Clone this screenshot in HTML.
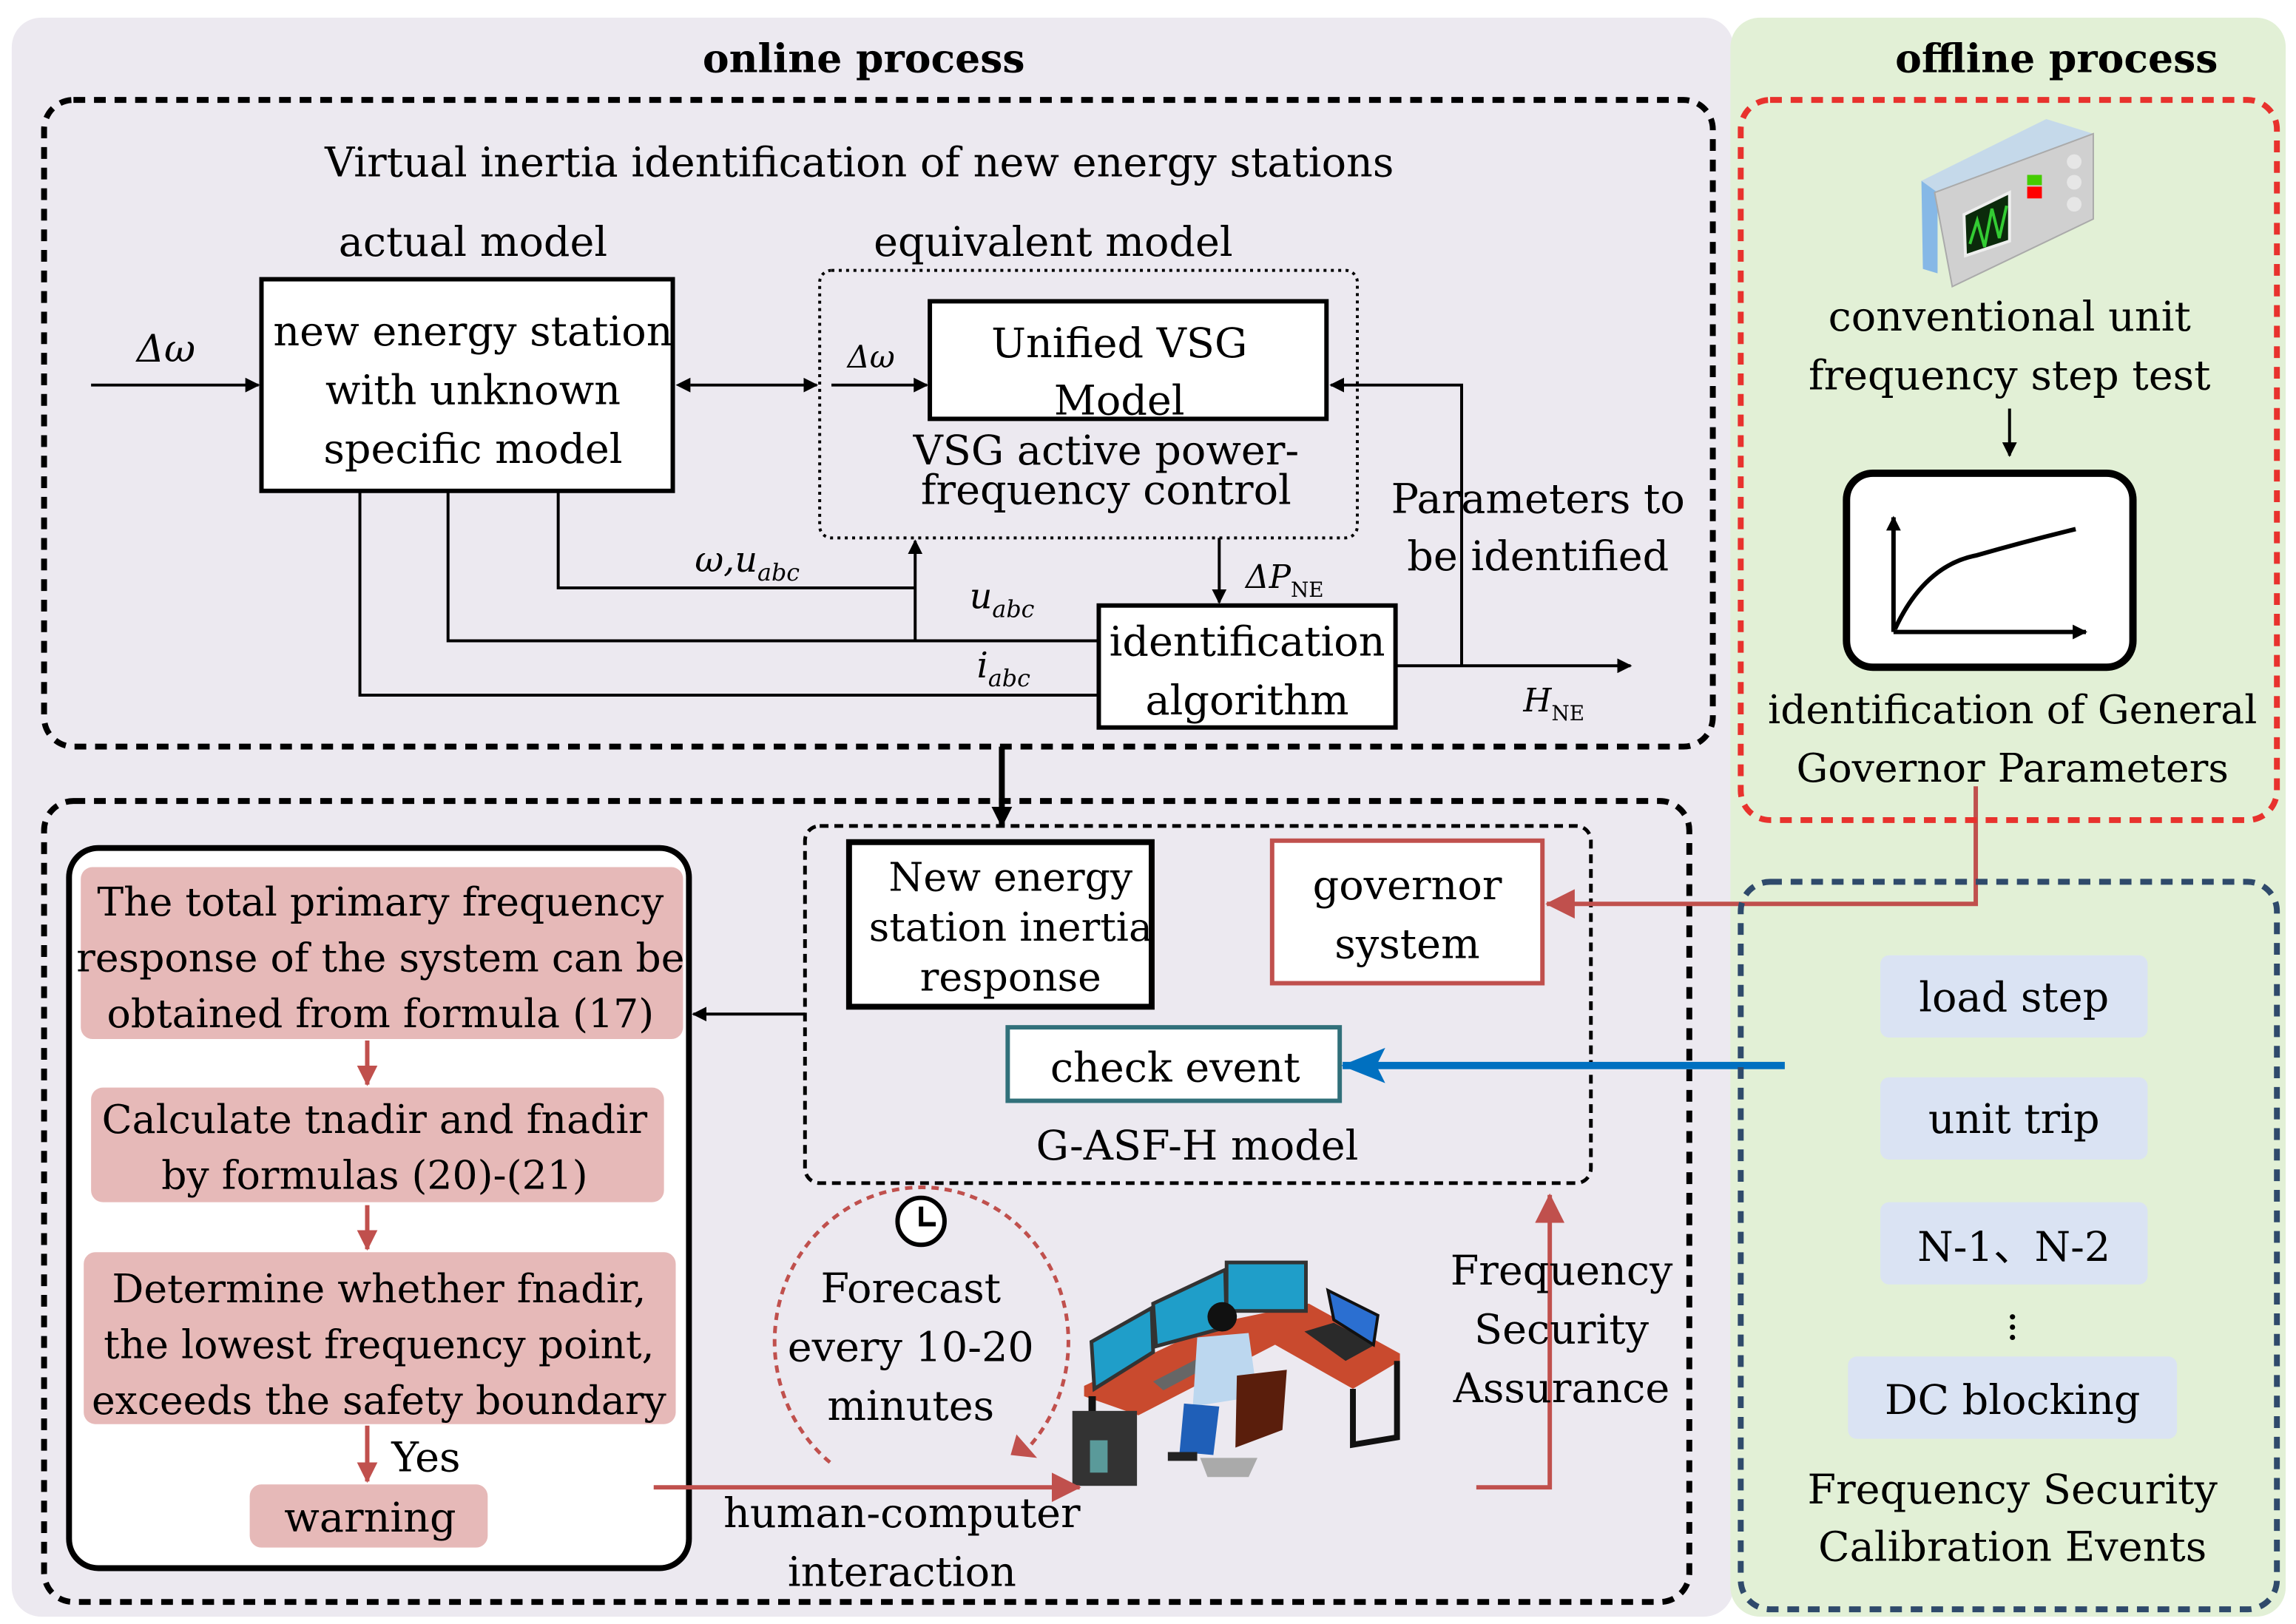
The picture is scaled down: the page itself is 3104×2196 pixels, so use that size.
<!DOCTYPE html>
<html><head><meta charset="utf-8"><style>
html,body{margin:0;padding:0;background:#fff;}
svg{display:block;}
text{font-family:"DejaVu Serif","Liberation Serif",serif;fill:#000;}
</style></head><body>
<svg width="3104" height="2196" viewBox="0 0 1563 1105" preserveAspectRatio="none" xmlns="http://www.w3.org/2000/svg">
<defs>
<marker id="ab" markerWidth="10" markerHeight="10" refX="9" refY="5" orient="auto" markerUnits="userSpaceOnUse"><path d="M0,0 L10,5 L0,10 Z" fill="#000"/></marker>
<marker id="ab2" markerWidth="14" markerHeight="14" refX="13" refY="7" orient="auto" markerUnits="userSpaceOnUse"><path d="M0,0 L14,7 L0,14 Z" fill="#000"/></marker>
<marker id="ar" markerWidth="20" markerHeight="20" refX="19" refY="10" orient="auto" markerUnits="userSpaceOnUse"><path d="M0,0 L20,10 L0,20 Z" fill="#c0504d"/></marker>
<marker id="abl" markerWidth="30" markerHeight="24" refX="29" refY="12" orient="auto" markerUnits="userSpaceOnUse"><path d="M0,0 L30,12 L0,24 L6,12 Z" fill="#0070c0"/></marker>
<marker id="ars" markerWidth="14" markerHeight="14" refX="13" refY="7" orient="auto" markerUnits="userSpaceOnUse"><path d="M0,0 L14,7 L0,14 Z" fill="#c0504d"/></marker>
</defs>
<rect width="1563" height="1105" fill="#fff"/>
<rect x="8" y="12" width="1172" height="1088" rx="20" fill="#ece9f0"/>
<rect x="1178" y="12" width="378" height="1088" rx="20" fill="#e2f0d6"/>
<text x="588" y="49" font-size="27" font-weight="bold" text-anchor="middle">online process</text>
<text x="1400" y="49" font-size="27" font-weight="bold" text-anchor="middle">offline process</text>

<!-- top dashed -->
<rect x="30" y="68" width="1136" height="440" rx="20" fill="none" stroke="#000" stroke-width="4" stroke-dasharray="8 6"/>
<text x="585" y="120" font-size="28" text-anchor="middle">Virtual inertia identification of new energy stations</text>
<text x="322" y="174" font-size="28" text-anchor="middle">actual model</text>
<text x="717" y="174" font-size="28" text-anchor="middle">equivalent model</text>
<rect x="178" y="190" width="280" height="144" fill="#fff" stroke="#000" stroke-width="3"/>
<text x="322" y="235" font-size="28" text-anchor="middle">new energy station</text>
<text x="322" y="275" font-size="28" text-anchor="middle">with unknown</text>
<text x="322" y="315" font-size="28" text-anchor="middle">specific model</text>
<text x="113" y="246" font-size="26" font-style="italic" text-anchor="middle">Δω</text>
<line x1="62" y1="262" x2="176" y2="262" stroke="#000" stroke-width="2" marker-end="url(#ab)"/>
<line x1="470" y1="262" x2="556" y2="262" stroke="#000" stroke-width="2" marker-end="url(#ab)"/>
<path d="M470,257 L460,262 L470,267 Z" fill="#000"/>
<rect x="558" y="184" width="366" height="182" rx="8" fill="none" stroke="#000" stroke-width="2" stroke-dasharray="2 3"/>
<rect x="633" y="205" width="270" height="80" fill="#fff" stroke="#000" stroke-width="3"/>
<text x="762" y="243" font-size="28" text-anchor="middle">Unified VSG</text>
<text x="762" y="282" font-size="28" text-anchor="middle">Model</text>
<text x="593" y="250" font-size="21" font-style="italic" text-anchor="middle">Δω</text>
<line x1="566" y1="262" x2="631" y2="262" stroke="#000" stroke-width="2" marker-end="url(#ab)"/>
<text x="753" y="316" font-size="28" text-anchor="middle">VSG active power-</text>
<text x="753" y="343" font-size="28" text-anchor="middle">frequency control</text>
<text x="1047" y="349" font-size="28" text-anchor="middle">Parameters to</text>
<text x="1047" y="388" font-size="28" text-anchor="middle">be identified</text>
<polyline points="995,453 995,262 906,262" fill="none" stroke="#000" stroke-width="2" marker-end="url(#ab)"/>
<rect x="748" y="412" width="202" height="83" fill="#fff" stroke="#000" stroke-width="3"/>
<text x="849" y="446" font-size="28" text-anchor="middle">identification</text>
<text x="849" y="486" font-size="28" text-anchor="middle">algorithm</text>
<line x1="830" y1="366" x2="830" y2="410" stroke="#000" stroke-width="2" marker-end="url(#ab)"/>
<text x="848" y="400" font-size="22" font-style="italic">ΔP<tspan font-size="14" font-style="normal" dy="6">NE</tspan></text>
<line x1="950" y1="453" x2="1110" y2="453" stroke="#000" stroke-width="2" marker-end="url(#ab)"/>
<text x="1037" y="484" font-size="22" font-style="italic">H<tspan font-size="14" font-style="normal" dy="6">NE</tspan></text>
<polyline points="380,334 380,400 623,400" fill="none" stroke="#000" stroke-width="2"/>
<line x1="623" y1="436" x2="623" y2="368" stroke="#000" stroke-width="2" marker-end="url(#ab)"/>
<polyline points="305,334 305,436 748,436" fill="none" stroke="#000" stroke-width="2"/>
<polyline points="245,334 245,473 748,473" fill="none" stroke="#000" stroke-width="2"/>
<text x="473" y="389" font-size="24" font-style="italic">ω,u<tspan font-size="16" dy="6">abc</tspan></text>
<text x="660" y="414" font-size="24" font-style="italic">u<tspan font-size="16" dy="6">abc</tspan></text>
<text x="665" y="461" font-size="24" font-style="italic">i<tspan font-size="16" dy="6">abc</tspan></text>
<line x1="682" y1="508" x2="682" y2="562" stroke="#000" stroke-width="4" marker-end="url(#ab2)"/>

<!-- bottom dashed -->
<rect x="30" y="545" width="1120" height="545" rx="20" fill="none" stroke="#000" stroke-width="4" stroke-dasharray="8 6"/>
<rect x="47" y="577" width="422" height="490" rx="20" fill="#fff" stroke="#000" stroke-width="4"/>
<rect x="55" y="590" width="410" height="117" rx="8" fill="#e6b9b8"/>
<text x="259" y="623" font-size="27" text-anchor="middle">The total primary frequency</text>
<text x="259" y="661" font-size="27" text-anchor="middle">response of the system can be</text>
<text x="259" y="699" font-size="27" text-anchor="middle">obtained from formula (17)</text>
<rect x="62" y="740" width="390" height="78" rx="8" fill="#e6b9b8"/>
<text x="255" y="771" font-size="27" text-anchor="middle">Calculate tnadir and fnadir</text>
<text x="255" y="809" font-size="27" text-anchor="middle">by formulas (20)-(21)</text>
<rect x="57" y="852" width="403" height="117" rx="8" fill="#e6b9b8"/>
<text x="258" y="886" font-size="27" text-anchor="middle">Determine whether fnadir,</text>
<text x="258" y="924" font-size="27" text-anchor="middle">the lowest frequency point,</text>
<text x="258" y="962" font-size="27" text-anchor="middle">exceeds the safety boundary</text>
<rect x="170" y="1010" width="162" height="43" rx="8" fill="#e6b9b8"/>
<text x="252" y="1042" font-size="28" text-anchor="middle">warning</text>
<line x1="250" y1="708" x2="250" y2="738" stroke="#c0504d" stroke-width="3" marker-end="url(#ars)"/>
<line x1="250" y1="820" x2="250" y2="850" stroke="#c0504d" stroke-width="3" marker-end="url(#ars)"/>
<line x1="250" y1="970" x2="250" y2="1008" stroke="#c0504d" stroke-width="3" marker-end="url(#ars)"/>
<text x="290" y="1001" font-size="28" text-anchor="middle">Yes</text>

<rect x="548" y="562" width="535" height="243" rx="10" fill="none" stroke="#000" stroke-width="2.5" stroke-dasharray="6 4"/>
<rect x="578" y="573" width="206" height="112" fill="#fff" stroke="#000" stroke-width="4"/>
<text x="688" y="606" font-size="27" text-anchor="middle">New energy</text>
<text x="688" y="640" font-size="27" text-anchor="middle">station inertia</text>
<text x="688" y="674" font-size="27" text-anchor="middle">response</text>
<line x1="548" y1="690" x2="472" y2="690" stroke="#000" stroke-width="2" marker-end="url(#ab)"/>
<rect x="866" y="572" width="184" height="97" fill="#fff" stroke="#c0504d" stroke-width="3"/>
<text x="958" y="612" font-size="28" text-anchor="middle">governor</text>
<text x="958" y="652" font-size="28" text-anchor="middle">system</text>
<rect x="686" y="699" width="226" height="50" fill="#fff" stroke="#31707a" stroke-width="3"/>
<text x="800" y="736" font-size="28" text-anchor="middle">check event</text>
<text x="815" y="789" font-size="28" text-anchor="middle">G-ASF-H model</text>
<polyline points="1345,535 1345,615 1053,615" fill="none" stroke="#c0504d" stroke-width="3" marker-end="url(#ar)"/>
<line x1="1215" y1="725" x2="914" y2="725" stroke="#0070c0" stroke-width="5" marker-end="url(#abl)"/>

<!-- forecast -->
<path d="M565,995 A100,105 0 1 1 700,985" fill="none" stroke="#c0504d" stroke-width="2.5" stroke-dasharray="5 4"/>
<path d="M692,976 L706,992 L688,990 Z" fill="#c0504d"/>
<circle cx="627" cy="831" r="16" fill="#fff" stroke="#000" stroke-width="3"/>
<polyline points="627,821 627,833 637,833" fill="none" stroke="#000" stroke-width="3"/>
<text x="620" y="886" font-size="28" text-anchor="middle">Forecast</text>
<text x="620" y="926" font-size="28" text-anchor="middle">every 10-20</text>
<text x="620" y="966" font-size="28" text-anchor="middle">minutes</text>

<!-- workstation -->
<g>
<polygon points="738,943 829,900 891,887 953,921 953,926 921,945 868,915 775,963 738,950" fill="#c94a2e"/>
<polygon points="743,913 784,890 785,920 745,945" fill="#1f9ec9" stroke="#333" stroke-width="2.5"/>
<polygon points="785,887 834,864 835,903 787,916" fill="#1f9ec9" stroke="#333" stroke-width="2.5"/>
<rect x="835" y="859" width="54" height="33" fill="#1f9ec9" stroke="#333" stroke-width="2.5"/>
<polygon points="888,906 916,926 936,915 908,900" fill="#2a2a2a"/>
<polygon points="904,878 938,895 935,915 908,898" fill="#2b6fd1" stroke="#111" stroke-width="2"/>
<polyline points="921,945 921,983 951,978 951,926" fill="none" stroke="#111" stroke-width="4"/>
<rect x="741" y="950" width="5" height="12" fill="#111"/>
<rect x="730" y="960" width="44" height="51" fill="#333"/>
<rect x="742" y="980" width="12" height="22" fill="#5a9a9a"/>
<polygon points="785,940 820,922 826,928 792,946" fill="#666"/>
<circle cx="832" cy="896" r="10" fill="#111"/>
<polygon points="815,910 850,907 856,950 812,957" fill="#bcd7ef"/>
<polygon points="806,955 830,957 826,990 803,988" fill="#1f5fb8"/>
<rect x="795" y="988" width="20" height="6" fill="#222"/>
<polygon points="842,936 876,932 873,973 841,985" fill="#5a1e0c"/>
<polygon points="817,992 856,992 850,1005 822,1005" fill="#aaa"/>
</g>
<line x1="445" y1="1012" x2="735" y2="1012" stroke="#c0504d" stroke-width="3" marker-end="url(#ar)"/>
<text x="614" y="1039" font-size="28" text-anchor="middle">human-computer</text>
<text x="614" y="1079" font-size="28" text-anchor="middle">interaction</text>
<polyline points="1005,1012 1055,1012 1055,813" fill="none" stroke="#c0504d" stroke-width="3" marker-end="url(#ar)"/>
<text x="1063" y="874" font-size="28" text-anchor="middle">Frequency</text>
<text x="1063" y="914" font-size="28" text-anchor="middle">Security</text>
<text x="1063" y="954" font-size="28" text-anchor="middle">Assurance</text>

<!-- offline -->
<rect x="1185" y="68" width="365" height="490" rx="20" fill="none" stroke="#e8322d" stroke-width="4" stroke-dasharray="8 6"/>
<g>
<polygon points="1308,123 1319,121 1319,186 1309,183" fill="#86b8e6"/>
<polygon points="1308,123 1393,81 1425,91 1319,131" fill="#c5d9ea"/>
<polygon points="1317,131 1425,91 1425,149 1329,195" fill="#d0d0d0" stroke="#aaa" stroke-width="1"/>
<polygon points="1337,146 1368,131 1368,164 1338,174" fill="#0b2a0b" stroke="#eee" stroke-width="2"/>
<polyline points="1341,166 1346,150 1351,168 1356,142 1361,162 1366,140" fill="none" stroke="#3c3" stroke-width="2"/>
<rect x="1380" y="119" width="10" height="7" fill="#4c0"/>
<rect x="1380" y="127" width="10" height="8" fill="#f00"/>
<circle cx="1412" cy="110" r="5" fill="#e6e6e6"/><circle cx="1412" cy="124" r="5" fill="#e6e6e6"/><circle cx="1412" cy="139" r="5" fill="#e6e6e6"/>
</g>
<text x="1368" y="225" font-size="28" text-anchor="middle">conventional unit</text>
<text x="1368" y="265" font-size="28" text-anchor="middle">frequency step test</text>
<line x1="1368" y1="278" x2="1368" y2="310" stroke="#000" stroke-width="2" marker-end="url(#ab)"/>
<rect x="1257" y="322" width="195" height="132" rx="18" fill="#fff" stroke="#000" stroke-width="5"/>
<line x1="1289" y1="430" x2="1289" y2="352" stroke="#000" stroke-width="3" marker-end="url(#ab)"/>
<line x1="1289" y1="430" x2="1420" y2="430" stroke="#000" stroke-width="3" marker-end="url(#ab)"/>
<path d="M1290,428 Q1310,385 1345,378 Q1380,368 1413,360" fill="none" stroke="#000" stroke-width="3"/>
<text x="1370" y="492" font-size="27" text-anchor="middle">identification of General</text>
<text x="1370" y="532" font-size="27" text-anchor="middle">Governor Parameters</text>

<rect x="1185" y="600" width="365" height="495" rx="20" fill="none" stroke="#2f4a6b" stroke-width="4" stroke-dasharray="8 6"/>
<rect x="1280" y="650" width="182" height="56" rx="6" fill="#dae3f3"/>
<text x="1371" y="688" font-size="28" text-anchor="middle">load step</text>
<rect x="1280" y="733" width="182" height="56" rx="6" fill="#dae3f3"/>
<text x="1371" y="771" font-size="28" text-anchor="middle">unit trip</text>
<rect x="1280" y="818" width="182" height="56" rx="6" fill="#dae3f3"/>
<text x="1371" y="858" font-size="28" text-anchor="middle">N-1、N-2</text>
<circle cx="1370" cy="896" r="1.8" fill="#000"/><circle cx="1370" cy="903" r="1.8" fill="#000"/><circle cx="1370" cy="910" r="1.8" fill="#000"/>
<rect x="1258" y="923" width="224" height="56" rx="6" fill="#dae3f3"/>
<text x="1370" y="962" font-size="28" text-anchor="middle">DC blocking</text>
<text x="1370" y="1023" font-size="28" text-anchor="middle">Frequency Security</text>
<text x="1370" y="1062" font-size="28" text-anchor="middle">Calibration Events</text>
</svg>
</body></html>
